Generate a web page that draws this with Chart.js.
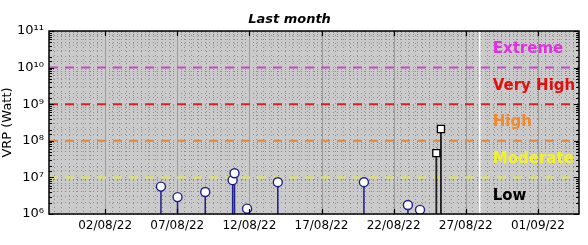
<!DOCTYPE html>
<html>
<head>
  <meta charset="utf-8" />
  <title>VRP last month</title>
  <script src="https://cdn.jsdelivr.net/npm/chart.js"></script>
  <style>
    body { margin: 0; background: #ffffff; }
  </style>
</head>
<body>
  <canvas id="vrpChart" width="588" height="245"></canvas>
  <script>
    // x values are days counted from 01/08/22 (day 1)
    const xMin = -1.89;
    const xMax = 34.85;
    const tickDays = [2, 7, 12, 17, 22, 27, 32];
    const tickLabels = ['02/08/22', '07/08/22', '12/08/22', '17/08/22', '22/08/22', '27/08/22', '01/09/22'];

    // circle events (blue)
    const circleDays = [5.87, 7.02, 8.94, 10.84, 10.97, 11.84, 13.97, 19.94, 22.99, 23.83];
    const circleVrp = [5.6e6, 2.9e6, 4.0e6, 8.4e6, 1.3e7, 1.4e6, 7.4e6, 7.4e6, 1.76e6, 1.3e6];

    // square events (black)
    const squareDays = [24.96, 25.28];
    const squareVrp = [4.6e7, 2.1e8];

    // alert thresholds and level labels
    const thresholds = [1e10, 1e9, 1e8, 1e7];
    const thresholdColors = ['#cc44cc', '#d62222', '#e3873f', '#e4e44a'];
    const levelNames = ['Extreme', 'Very High', 'High', 'Moderate', 'Low'];
    const levelColors = ['#e030e0', '#e01010', '#f08a2a', '#f2f22a', '#000000'];
    const levelExp = [10.5, 9.5, 8.5, 7.5, 6.5];
    const levelDay = 28.87;

    const nowDay = 27.97;
    const yMin = 1e6;
    const yMax = 1e11;

    Chart.defaults.font.family = 'DejaVu Sans';
    Chart.defaults.color = '#000000';

    const sup = '⁰¹²³⁴⁵⁶⁷⁸⁹';
    function powLabel(v) {
      const e = Math.log10(v);
      if (Math.abs(e - Math.round(e)) > 1e-9) return '';
      return '10' + String(Math.round(e)).split('').map(d => sup[+d]).join('');
    }

    // stems: base point, top point, gap
    function stems(days, vals) {
      const out = [];
      days.forEach((d, i) => {
        out.push({ x: d, y: yMin });
        out.push({ x: d, y: vals[i], m: true });
        out.push({ x: d, y: null });
      });
      return out;
    }

    const datasets = [
      {
        data: stems(squareDays, squareVrp),
        showLine: true,
        spanGaps: false,
        borderColor: '#1e1e1e',
        borderWidth: 1.8,
        pointStyle: 'rect',
        pointRadius: c => (c.raw && c.raw.m ? 5 : 0),
        pointBackgroundColor: '#ffffff',
        pointBorderColor: '#000000',
        pointBorderWidth: 1.3,
        order: 0
      },
      {
        data: stems(circleDays, circleVrp),
        showLine: true,
        spanGaps: false,
        borderColor: '#1f1f8c',
        borderWidth: 1.5,
        pointRadius: c => (c.raw && c.raw.m ? 4.5 : 0),
        pointBackgroundColor: '#ffffff',
        pointBorderColor: '#1f1f8c',
        pointBorderWidth: 1.4,
        order: 1
      }
    ];
    thresholds.forEach((t, i) => {
      datasets.push({
        data: [{ x: xMin, y: t }, { x: xMax, y: t }],
        showLine: true,
        borderColor: thresholdColors[i],
        borderWidth: 2,
        borderDash: [9, 7],
        pointRadius: 0,
        order: 2
      });
    });
    datasets.push({
      data: [{ x: nowDay, y: yMin }, { x: nowDay, y: yMax }],
      showLine: true,
      borderColor: '#ffffff',
      borderWidth: 1.5,
      pointRadius: 0,
      order: 3
    });

    const framePlugin = {
      id: 'frame',
      beforeDraw(chart) {
        const { ctx, chartArea: a } = chart;
        ctx.save();
        ctx.fillStyle = '#cacaca';
        ctx.fillRect(a.left, a.top, a.right - a.left, a.bottom - a.top);
        ctx.restore();
      },
      beforeDatasetsDraw(chart) {
        const { ctx, chartArea: a, scales: { x } } = chart;
        ctx.save();
        ctx.strokeStyle = '#9c9c9c';
        ctx.lineWidth = 1;
        tickDays.forEach(d => {
          const px = Math.round(x.getPixelForValue(d)) + 0.5;
          ctx.beginPath();
          ctx.moveTo(px, a.top);
          ctx.lineTo(px, a.bottom);
          ctx.stroke();
        });
        ctx.restore();
      },
      afterDatasetsDraw(chart) {
        const { ctx, chartArea: a, scales: { x, y } } = chart;
        ctx.save();
        // level names
        ctx.beginPath();
        ctx.rect(a.left, a.top, a.right - a.left, a.bottom - a.top);
        ctx.clip();
        ctx.font = 'bold 15px "DejaVu Sans"';
        ctx.textBaseline = 'middle';
        ctx.textAlign = 'left';
        levelNames.forEach((n, i) => {
          ctx.fillStyle = levelColors[i];
          ctx.fillText(n, x.getPixelForValue(levelDay), y.getPixelForValue(Math.pow(10, levelExp[i])));
        });
        ctx.restore();

        ctx.save();
        ctx.strokeStyle = '#000000';
        ctx.lineWidth = 1.2;
        // x tick marks top and bottom
        tickDays.forEach(d => {
          const px = Math.round(x.getPixelForValue(d)) + 0.5;
          ctx.beginPath();
          ctx.moveTo(px, a.bottom);
          ctx.lineTo(px, a.bottom - 5);
          ctx.moveTo(px, a.top);
          ctx.lineTo(px, a.top + 5);
          ctx.stroke();
        });
        // y tick marks left and right
        y.ticks.forEach(t => {
          const py = Math.round(y.getPixelForValue(t.value)) + 0.5;
          const len = powLabel(t.value) ? 5 : 3;
          ctx.beginPath();
          ctx.moveTo(a.left, py);
          ctx.lineTo(a.left + len, py);
          ctx.moveTo(a.right, py);
          ctx.lineTo(a.right - len, py);
          ctx.stroke();
        });
        ctx.lineWidth = 1.5;
        ctx.strokeRect(a.left, a.top, a.right - a.left, a.bottom - a.top);
        ctx.restore();
      }
    };

    new Chart(document.getElementById('vrpChart'), {
      type: 'scatter',
      data: { datasets },
      options: {
        responsive: false,
        animation: false,
        layout: { padding: { left: 0, right: 9, top: 0, bottom: 0 } },
        plugins: {
          legend: { display: false },
          tooltip: { enabled: false },
          title: {
            display: true,
            text: 'Last month',
            color: '#000000',
            font: { size: 13, weight: 'bold', style: 'italic' },
            padding: { top: 12, bottom: 3.4 }
          }
        },
        scales: {
          x: {
            type: 'linear',
            min: xMin,
            max: xMax,
            afterBuildTicks: s => {
              const t = [];
              for (let v = -1.5; v <= 34.5; v += 0.5) t.push({ value: v });
              s.ticks = t;
            },
            afterFit: s => { s.height = 31; },
            ticks: {
              autoSkip: false,
              maxRotation: 0,
              padding: 5,
              font: { size: 12 },
              callback: v => {
                const i = tickDays.indexOf(v);
                return i < 0 ? '' : tickLabels[i];
              }
            },
            grid: { color: '#8e8e8e', lineWidth: 1, drawTicks: false },
            border: { display: false, dash: [1, 3] }
          },
          y: {
            type: 'logarithmic',
            min: yMin,
            max: yMax,
            afterFit: s => { s.width = 49; },
            ticks: {
              autoSkip: false,
              padding: 5,
              font: { size: 13 },
              callback: v => powLabel(v)
            },
            title: {
              display: true,
              text: 'VRP (Watt)',
              font: { size: 13 },
              padding: { top: 0, bottom: 0 }
            },
            grid: { color: '#8e8e8e', lineWidth: 1, drawTicks: false },
            border: { display: false, dash: [1, 3] }
          }
        }
      },
      plugins: [framePlugin]
    });
  </script>
</body>
</html>
